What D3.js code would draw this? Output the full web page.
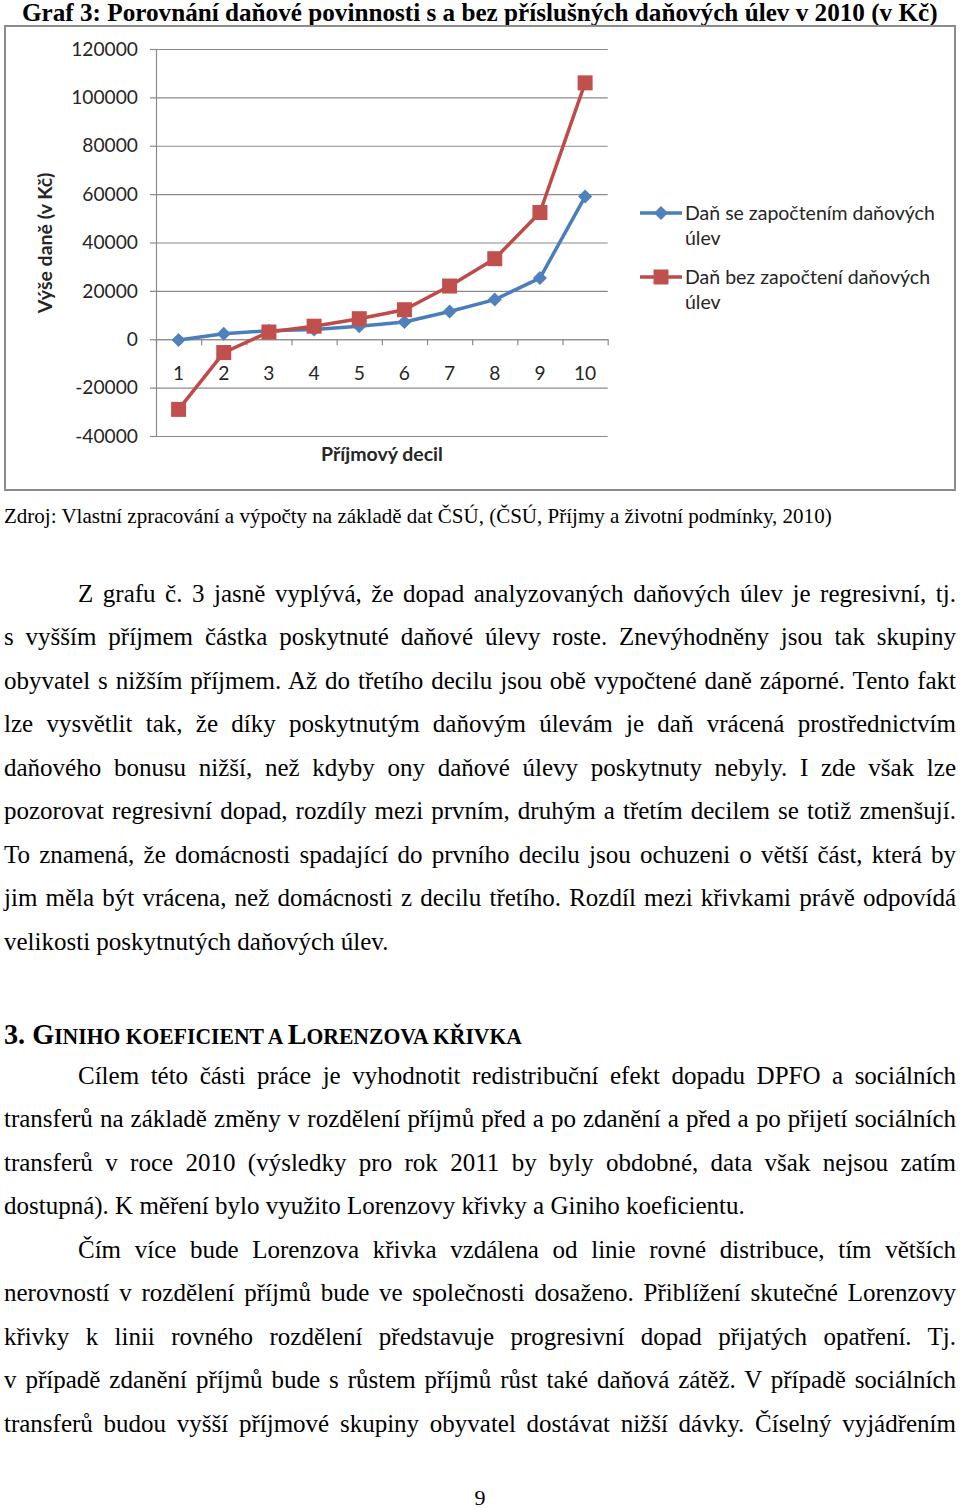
<!DOCTYPE html>
<html>
<head>
<meta charset="utf-8">
<script src="https://cdn.jsdelivr.net/npm/d3@7"></script>
<style>
  html, body { margin: 0; padding: 0; background: #fff; }
  svg { display: block; }
</style>
</head>
<body>
<script>
// ---------------- DATA ----------------
const deciles = ["1", "2", "3", "4", "5", "6", "7", "8", "9", "10"];
const taxWithReliefs = [-300, 2300, 3500, 4000, 5400, 7100, 11500, 16400, 25300, 59000];
const taxWithoutReliefs = [-29000, -5500, 3000, 5400, 8500, 12200, 22000, 33300, 52400, 106000];
const yTickValues = [-40000, -20000, 0, 20000, 40000, 60000, 80000, 100000, 120000];
const seriesNames = [["Daň se započtením daňových", "úlev"], ["Daň bez započtení daňových", "úlev"]];
const yAxisTitle = "Výše daně (v Kč)";
const xAxisTitle = "Příjmový decil";

const titleText = "Graf 3: Porovnání daňové povinnosti s a bez příslušných daňových úlev v 2010 (v Kč)";
const sourceText = "Zdroj: Vlastní zpracování a výpočty na základě dat ČSÚ, (ČSÚ, Příjmy a životní podmínky, 2010)";
const paragraph1 = [
  "Z grafu č. 3 jasně vyplývá, že dopad analyzovaných daňových úlev je regresivní, tj.",
  "s vyšším příjmem částka poskytnuté daňové úlevy roste. Znevýhodněny jsou tak skupiny",
  "obyvatel s nižším příjmem. Až do třetího decilu jsou obě vypočtené daně záporné. Tento fakt",
  "lze vysvětlit tak, že díky poskytnutým daňovým úlevám je daň vrácená prostřednictvím",
  "daňového bonusu nižší, než kdyby ony daňové úlevy poskytnuty nebyly. I zde však lze",
  "pozorovat regresivní dopad, rozdíly mezi prvním, druhým a třetím decilem se totiž zmenšují.",
  "To znamená, že domácnosti spadající do prvního decilu jsou ochuzeni o větší část, která by",
  "jim měla být vrácena, než domácnosti z decilu třetího. Rozdíl mezi křivkami právě odpovídá",
  "velikosti poskytnutých daňových úlev."
];
const headingParts = [["3. G", "big"], ["INIHO KOEFICIENT A ", "small"], ["L", "big"], ["ORENZOVA KŘIVKA", "small"]];
const paragraph2 = [
  "Cílem této části práce je vyhodnotit redistribuční efekt dopadu DPFO a sociálních",
  "transferů na základě změny v rozdělení příjmů před a po zdanění a před a po přijetí sociálních",
  "transferů v roce 2010 (výsledky pro rok 2011 by byly obdobné, data však nejsou zatím",
  "dostupná). K měření bylo využito Lorenzovy křivky a Giniho koeficientu."
];
const paragraph3 = [
  "Čím více bude Lorenzova křivka vzdálena od linie rovné distribuce, tím větších",
  "nerovností v rozdělení příjmů bude ve společnosti dosaženo. Přiblížení skutečné Lorenzovy",
  "křivky k linii rovného rozdělení představuje progresivní dopad přijatých opatření. Tj.",
  "v případě zdanění příjmů bude s růstem příjmů růst také daňová zátěž. V případě sociálních",
  "transferů budou vyšší příjmové skupiny obyvatel dostávat nižší dávky. Číselný vyjádřením"
];
const pageNumber = "9";

// ---------------- PAGE ----------------
const svg = d3.select("body").append("svg").attr("width", 960).attr("height", 1509);
const serif = "'Liberation Serif', 'Times New Roman', serif";
const sans = "Lato, 'Open Sans', sans-serif";

function fitWidth(sel, target) {
  const w = sel.node().getComputedTextLength();
  const fs = parseFloat(sel.attr("font-size"));
  sel.attr("font-size", fs * target / w);
}

// Title
const title = svg.append("text").attr("x", 22).attr("y", 20.5)
  .attr("font-family", serif).attr("font-weight", "bold").attr("font-size", 25)
  .attr("fill", "#000").text(titleText);
fitWidth(title, 916);

// Chart frame
const chart = svg.append("g");
chart.append("rect").attr("x", 5).attr("y", 26).attr("width", 950).attr("height", 464)
  .attr("fill", "#fff").attr("stroke", "#8c8c8c").attr("stroke-width", 2);

const plotL = 156, plotR = 607.7, plotT = 49, plotB = 436;
const x = d3.scaleBand().domain(deciles).range([plotL, plotR]).padding(0);
const xb = d3.scaleLinear().domain([0, deciles.length]).range([plotL, plotR]);
const y = d3.scaleLinear().domain([-40000, 120000]).range([plotB, plotT]);
const gridColor = "#8a8a8a";
const textColor = "#262626";
const tickFont = 19.2;

// Gridlines
const grid = chart.append("g").attr("transform", `translate(${plotL},0)`)
  .call(d3.axisLeft(y).tickValues(yTickValues).tickSize(-(plotR - plotL)).tickFormat(""));
grid.select(".domain").remove();
grid.selectAll(".tick line").attr("stroke", gridColor).attr("stroke-width", 1.2);

// Y axis with labels (hyphen-minus as in the original)
const yAxis = chart.append("g").attr("transform", `translate(${plotL},0)`)
  .call(d3.axisLeft(y).tickValues(yTickValues).tickSize(6).tickSizeOuter(0).tickPadding(12).tickFormat(d => String(d)));
yAxis.select(".domain").attr("stroke", gridColor).attr("stroke-width", 1.2);
yAxis.selectAll(".tick line").attr("stroke", gridColor).attr("stroke-width", 1.2);
yAxis.selectAll(".tick text").attr("font-family", sans).attr("font-size", tickFont).attr("fill", textColor);

// X axis at zero with boundary ticks
const xTicks = chart.append("g").attr("transform", `translate(0,${y(0)})`)
  .call(d3.axisBottom(xb).tickValues(d3.range(0, deciles.length + 1)).tickSize(6).tickSizeOuter(0).tickFormat(""));
xTicks.select(".domain").attr("stroke", gridColor).attr("stroke-width", 1.2);
xTicks.selectAll(".tick line").attr("stroke", gridColor).attr("stroke-width", 1.2);

const xLabels = chart.append("g").attr("transform", `translate(0,${y(0)})`)
  .call(d3.axisBottom(x).tickSize(0).tickPadding(27));
xLabels.select(".domain").remove();
xLabels.selectAll(".tick text").attr("font-family", sans).attr("font-size", tickFont).attr("fill", textColor);

// Axis titles
chart.append("text").attr("transform", "translate(52,243) rotate(-90)")
  .attr("text-anchor", "middle").attr("font-family", sans).attr("font-weight", "bold")
  .attr("font-size", 19.5).attr("fill", textColor).text(yAxisTitle);
chart.append("text").attr("x", 382).attr("y", 461)
  .attr("text-anchor", "middle").attr("font-family", sans).attr("font-weight", "bold")
  .attr("font-size", 19.5).attr("fill", textColor).text(xAxisTitle);

// Series
const blueLine = "#4a7ebb", blueMark = "#4f81bd";
const redLine = "#be4b48", redMark = "#c0504d";
const line = d3.line().x((d, i) => x(deciles[i]) + x.bandwidth() / 2).y(d => y(d));
const diamond = d3.symbol(d3.symbolSquare, 98)();
const square = d3.symbol(d3.symbolSquare, 225)();

chart.append("path").datum(taxWithReliefs).attr("d", line)
  .attr("fill", "none").attr("stroke", blueLine).attr("stroke-width", 3.5).attr("stroke-linejoin", "round");
chart.selectAll(".dmark").data(taxWithReliefs).enter().append("path").attr("class", "dmark")
  .attr("d", diamond).attr("fill", blueMark)
  .attr("transform", (d, i) => `translate(${x(deciles[i]) + x.bandwidth() / 2},${y(d)}) rotate(45)`);

chart.append("path").datum(taxWithoutReliefs).attr("d", line)
  .attr("fill", "none").attr("stroke", redLine).attr("stroke-width", 3.5).attr("stroke-linejoin", "round");
chart.selectAll(".smark").data(taxWithoutReliefs).enter().append("path").attr("class", "smark")
  .attr("d", square).attr("fill", redMark)
  .attr("transform", (d, i) => `translate(${x(deciles[i]) + x.bandwidth() / 2},${y(d)})`);

// Legend
const legend = chart.append("g");
const legY = [213, 277];
seriesNames.forEach((lines, k) => {
  const g = legend.append("g").attr("transform", `translate(0,${legY[k]})`);
  g.append("line").attr("x1", 640).attr("x2", 682).attr("y1", 0).attr("y2", 0)
    .attr("stroke", k === 0 ? blueLine : redLine).attr("stroke-width", 3.5);
  g.append("path").attr("d", k === 0 ? diamond : square)
    .attr("fill", k === 0 ? blueMark : redMark)
    .attr("transform", k === 0 ? "translate(661,0) rotate(45)" : "translate(661,0)");
  lines.forEach((t, j) => {
    g.append("text").attr("x", 685).attr("y", 7 + j * 25)
      .attr("font-family", sans).attr("font-size", 19.5).attr("fill", textColor).text(t);
  });
});

// Source line
const src = svg.append("text").attr("x", 4).attr("y", 523)
  .attr("font-family", serif).attr("font-size", 19).attr("fill", "#000").text(sourceText);
fitWidth(src, 828);

// Justified body text
const lineStep = 43.44;
function paragraph(lines, firstBaseline, justifyLast) {
  lines.forEach((t, i) => {
    const indent = i === 0 ? 78 : 4;
    const el = svg.append("text").attr("x", indent).attr("y", firstBaseline + i * lineStep)
      .attr("font-family", serif).attr("font-size", 25).attr("fill", "#000")
      .style("word-spacing", "0px").text(t);
    const isLast = i === lines.length - 1;
    if (!isLast || justifyLast) {
      const w = el.node().getComputedTextLength();
      const n = (t.match(/ /g) || []).length;
      if (n > 0) el.style("word-spacing", ((956 - indent - w) / n) + "px");
    }
  });
}
paragraph(paragraph1, 602, false);

// Heading (small caps built from tspans)
const head = svg.append("text").attr("x", 4).attr("y", 1044)
  .attr("font-family", serif).attr("font-weight", "bold").attr("fill", "#000");
headingParts.forEach(([t, s]) => {
  head.append("tspan").attr("font-size", s === "big" ? 30 : 23).text(t);
});
{
  const w = head.node().getComputedTextLength();
  const k = 518 / w;
  head.attr("transform", `translate(4,0) scale(${k},1) translate(-4,0)`);
}

paragraph(paragraph2, 1084, false);
paragraph(paragraph3, 1084 + 4 * lineStep, true);

// Page number
svg.append("text").attr("x", 480).attr("y", 1505).attr("text-anchor", "middle")
  .attr("font-family", serif).attr("font-size", 22).attr("fill", "#000").text(pageNumber);
</script>
</body>
</html>
